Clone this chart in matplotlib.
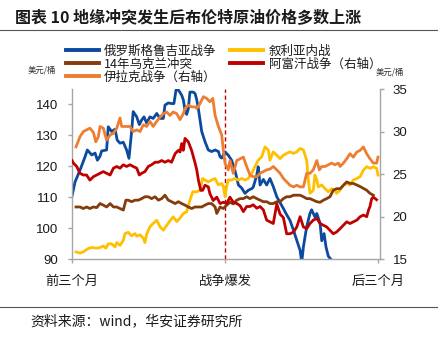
import matplotlib
matplotlib.use("Agg")
import matplotlib.pyplot as plt
from matplotlib.lines import Line2D

plt.rcParams['font.family'] = ['Noto Sans CJK SC', 'DejaVu Sans']

# ---------------- data ----------------
title = "图表 10 地缘冲突发生后布伦特原油价格多数上涨"
source = "资料来源：wind，华安证券研究所"
unit_label = "美元/桶"
x_ticks = [-65, 0, 65]
x_tick_labels = ["前三个月", "战争爆发", "后三个月"]
left_ticks = [90, 100, 110, 120, 130, 140]
right_ticks = [15, 20, 25, 30, 35]
event_day = 0

names = ["俄罗斯格鲁吉亚战争", "叙利亚内战", "14年乌克兰冲突", "阿富汗战争（右轴）", "伊拉克战争（右轴）"]

georgia_x = [-65, -63.7, -61.6, -59.5, -58.5, -56.6, -55.2, -54.2, -53.1, -52.4, -50.3, -49.6, -48.2, -46.7,
             -45.8, -44.6, -43.2, -41.8, -40.8, -39.7, -39, -37.5, -36.4, -35.4, -34.4, -33.3, -31.9, -30.5,
             -29, -27.6, -26.2, -25.5, -24.1, -22.7, -21.7, -20.8, -19.8, -18.4, -17.7, -17, -16.3, -15.6,
             -14.9, -13.5, -12.7, -12, -11.3, -10.6, -9.9, -8.5, -7.1, -5.7, -4.2, -2.8, -2.1, -1.4, 0, 1.4,
             2.8, 4.2, 5.7, 7.1, 8.5, 9.9, 11.3, 12, 13.5, 14.1, 14.9, 16.3, 17.7, 19.1, 20.5, 22, 23.4, 24.8,
             26.2, 27.6, 29.1, 30.5, 31.9, 32.6, 33.3, 34.7, 36.1, 36.8, 38.2, 39, 40.4, 41.1, 42.1, 42.9,
             43.9, 45.3]
georgia_y = [110.4, 115, 118.8, 123, 125.3, 123.7, 124.3, 122, 123.3, 125, 125.3, 132.8, 131.3, 132,
             128.5, 127.5, 127.8, 125.3, 122.6, 131, 137.7, 136, 133.5, 135, 136, 134, 136, 135.5,
             137.1, 135.5, 135.5, 139.8, 140.5, 140.3, 140.3, 144.7, 144.7, 143, 141.5, 138.2, 136.8, 138.5,
             144, 144, 143.5, 141.5, 138.5, 135, 131.3, 128, 125.3, 124.8, 125.3, 124.8, 123.1, 122.7, 124.7, 123.6,
             122, 118.8, 114, 113, 111.3, 112.3, 112.8, 113.3, 117.2, 119.9, 114, 115.8, 114, 116.1, 113.5, 110.2, 108.3, 106.4,
             104.4, 102.6, 99.4, 96.1, 92.9, 89, 94, 100.5, 104.8, 106, 103.7, 104.8, 101.6, 96, 98.3, 94,
             91, 89.7]

syria_x = [-63.3, -61.6, -60.2, -58.1, -56.6, -54.5, -53.1, -51.7, -50.6, -49.6, -48.2, -46.7, -46, -44.6,
           -43.2, -42.5, -41.1, -39.7, -38.2, -37.5, -36.1, -34.7, -34, -33.3, -31.9, -30.5, -29, -27.6,
           -26.2, -24.8, -23.4, -22, -20.5, -19.1, -17.7, -16.3, -14.9, -13.7, -12, -10.6, -9.5, -8.5, -7.1,
           -5.7, -4.2, -2.8, -1.4, -0.7, 0, 0.7, 1.4, 2.8, 4.2, 5.7, 7.1, 8.5, 9.9, 11.3, 12.7, 14.1, 15.6,
           17, 18.4, 19.1, 20.5, 22, 23.4, 24.8, 26.2, 27.6, 29.1, 30.5, 31.9, 33.3, 34.7, 35.4, 36.1, 37.5,
           38.2, 39, 39.6, 41.1, 42.5, 43.9, 45.3, 46.7, 47.4, 48.9, 50.3, 51.7, 53.1, 54.5, 56, 57.4, 58.8,
           60.2, 61.6, 63, 64.4, 65]
syria_y = [92.4, 92, 92.4, 93.5, 93.8, 93.6, 93.8, 94.3, 93.6, 95, 95, 94, 95.4, 94.5,
           96.1, 98.3, 98.7, 97.6, 98.3, 97.5, 97.9, 96.8, 95.4, 98.1, 100.5, 101.6, 102.6, 100.5,
           99.4, 100.9, 102.4, 103.7, 102.2, 103.3, 104.8, 105.3, 109.1, 111.8, 111.8, 112.3, 116.1, 115.6, 115,
           115.6, 116.1, 114, 114.5, 113.4, 110.2, 113.5, 115.6, 115.6, 116.1, 115.6, 116.1, 115.6, 116.1, 117.7, 119.9, 122, 123.1,
           126.3, 125.3, 122, 124.7, 123.6, 122.5, 123.6, 124.2, 124.7, 124.2, 124.7, 125.8, 125.3, 122, 115.6, 111.3, 112.3,
           117.2, 115.6, 113.4, 114, 112.8, 111.8, 112.8, 112.3, 111.3, 112.3, 114, 114.5, 114, 115.6, 116.1, 116.7, 118.8,
           119.9, 119.4, 119.9, 119.4, 117.2]

ukraine_x = [-63.3, -61.6, -60.2, -58.8, -57.4, -55.9, -54.5, -53.1, -51.7, -50.3, -48.8, -47.4, -46, -44.6,
             -43.2, -42.1, -41.1, -39.7, -38.2, -36.8, -35.4, -34, -32.6, -31.2, -29.7, -28.3, -26.9, -25.5,
             -24.1, -22.7, -21.2, -19.8, -18.4, -17, -15.6, -14.2, -12.7, -11.3, -9.9, -8.5, -7.1, -5.7, -4.2,
             -3.5, -2.1, -0.7, 0.7, 2.1, 3.5, 5, 6.4, 7.8, 9.2, 10.6, 12, 13.5, 14.9, 16.3, 17.7, 19.1, 20.5,
             22, 23.4, 24.8, 26.2, 27.6, 29.1, 30.5, 31.9, 33.3, 34.7, 36.1, 37.5, 39, 40.4, 41.8, 43.2, 44.6,
             46, 47.4, 48.9, 50.3, 51.7, 53.1, 54.5, 56, 57.4, 58.8, 60.2, 61.6, 63]
ukraine_y = [106.9, 106.9, 106.4, 106.9, 106.4, 106.9, 106.7, 108, 107.5, 106.9, 108, 106.9, 106.9, 106.4,
             105.9, 109.1, 109.1, 108.6, 109.1, 109.1, 109.6, 110.2, 110.2, 109.6, 110.2, 109.1, 109.6, 110.7,
             109.1, 108.6, 108, 108.6, 108, 107.5, 106.9, 106.4, 106.9, 106.9, 106.9, 107.5, 108, 108, 106.9,
             104.8, 106.9, 106.4, 107.5, 108.4, 107.9, 109.1, 109.6, 109.6, 110.2, 109.6, 110.2, 109.6, 109.1, 108.6, 108.6, 108, 108,
             108.6, 108.6, 109.6, 110.2, 110.2, 110.7, 110.7, 110.7, 110.2, 109.6, 109.6, 109.1, 108.6, 108.4, 109.1, 109.6, 110.2,
             112.3, 112.8, 112.8, 113.9, 115, 114.5, 114.5, 114, 113.5, 112.9, 112.3, 111.3, 110.7]

afghan_x = [-65, -64.4, -63, -61.6, -60.2, -58.8, -57.4, -55.9, -54.5, -53.1, -51.7, -50.3, -48.8, -47.4,
            -46, -44.6, -43.2, -41.8, -40.4, -39, -37.5, -36.4, -35.4, -34, -32.6, -31.2, -29.7, -28.3,
            -26.9, -25.5, -24.1, -22.7, -21.2, -19.8, -19.1, -18.4, -17.7, -17, -15.6, -14.2, -12.7, -12,
            -11.3, -10.3, -9.5, -8.5, -7.1, -6.4, -5, -3.5, -2.1, -0.7, 0.7, 2.1, 3.5, 5, 6.4, 7.8, 9.2,
            10.6, 12, 13.5, 14.9, 16.3, 17.7, 19.1, 20.5, 22, 23.4, 24.8, 26.2, 27.6, 29.1, 30.5, 31.9, 33.3,
            34.7, 36.1, 37.5, 39, 40.4, 41.8, 43.2, 44.6, 46, 47.4, 48.9, 50.3, 51.7, 53.1, 54.5, 56, 57.4,
            58.8, 60.2, 61, 61.6, 62.3, 63, 64.4]
afghan_y = [26.6, 26.3, 25.9, 25.1, 24.9, 24.9, 24.3, 24.7, 24.9, 25.1, 25.3, 25.1, 24.9, 25.7,
            25.9, 25.7, 26.1, 25.9, 26.1, 25.9, 25.7, 24.9, 25.1, 25.3, 25.9, 26.1, 26.4, 26.4,
            26.6, 26.4, 26.6, 26.4, 27.4, 27.8, 27.6, 28.6, 27.8, 29.2, 28.8, 27.8, 26.3, 25.5,
            24.3, 23.1, 23.1, 23.7, 23.5, 22.7, 21.9, 22.3, 21.55, 21.7, 21.55, 22.3, 21.7, 21.55, 21.3, 20.6, 21.2,
            21.2, 21.4, 21.0, 21.2, 20.8, 19.6, 19.4, 19.2, 21.5, 20.3, 19.9, 18, 18, 18.2, 18.8, 20, 18.8,
            18.6, 19.2, 19.6, 19.8, 19.2, 19, 18.8, 18.4, 18, 18.2, 18.6, 19, 19.4, 19.2, 19.4, 19.6, 20,
            20.2, 20, 20.8, 21.2, 22.1, 22.3, 22]

iraq_x = [-63.3, -61.6, -60.2, -58.8, -57.4, -55.9, -54.9, -53.8, -53.1, -51.7, -50.3, -48.8, -47.4, -46,
          -44.6, -43.9, -41.8, -40.4, -39, -37.5, -36.1, -34.7, -33.3, -31.9, -30.5, -29, -27.6, -26.2,
          -24.8, -23.4, -22, -20.5, -19.1, -17.7, -17, -15.6, -14.2, -12.7, -12, -10.6, -9.2, -7.8, -6.4,
          -5.2, -4.2, -2.8, -1.4, -0.7, 0, 1.4, 2.1, 3.5, 5, 6.4, 7.8, 9.2, 10.6, 12, 13.5, 14.9, 16.3,
          17.7, 19.1, 20.5, 22, 23.4, 24.8, 26.2, 27.6, 29.1, 30.5, 31.9, 33.3, 34.7, 36.1, 37.5, 39, 40.1,
          41.1, 42.5, 43.9, 45.3, 46.7, 48.2, 48.9, 50.3, 51.7, 53.1, 54.5, 56, 57.4, 58.8, 60.2, 61.6, 63,
          64.4, 65]
iraq_y = [28.2, 29.4, 30, 30.2, 30.4, 29.9, 28.8, 29.4, 30.6, 30.4, 29, 29.6, 29.8, 30.4,
          31.6, 30.6, 30.6, 30.6, 30, 30.2, 30, 30.8, 30.6, 31.2, 30.6, 31.2, 31.7, 32.1,
          32.3, 31.9, 32.3, 32.1, 31.4, 32.1, 32.7, 33.1, 32.9, 32.9, 32.7, 33.3, 34.1, 33.9, 33.5,
          33.9, 31.9, 30.6, 29.6, 27.8, 26.3, 25.5, 26.6, 25.1, 26.6, 26.8, 27, 25.9, 24.9, 24.7, 24.7, 25.1, 25.3,
          25.5, 25.6, 25.9, 25.5, 25.1, 24.5, 24.1, 23.7, 23.5, 23.7, 23.5, 23.5, 25.1, 25.1, 25.5, 26.6, 25.5,
          25.9, 25.9, 26.1, 26.3, 26.1, 26.3, 25.9, 26.3, 26.8, 27.4, 27, 27.6, 27.8, 28.2, 27.4, 26.8, 26.3,
          26.3, 27]

# ---------------- style ----------------
c_blue = "#0B4A9E"
c_yellow = "#FFC000"
c_brown = "#843C0C"
c_red = "#C00000"
c_orange = "#ED7D31"
spine_c = "#A6A6A6"
lw = 2.0

fig = plt.figure(figsize=(4.38, 3.37), dpi=100)
ax = fig.add_axes([72 / 438, 1 - 259.3 / 337, 308 / 438, (259.3 - 89) / 337])
ax2 = ax.twinx()

l1, = ax.plot(georgia_x, georgia_y, color=c_blue, lw=lw, solid_joinstyle='round')
l2, = ax.plot(syria_x, syria_y, color=c_yellow, lw=lw, solid_joinstyle='round')
l3, = ax.plot(ukraine_x, ukraine_y, color=c_brown, lw=lw, solid_joinstyle='round')
l4, = ax2.plot(afghan_x, afghan_y, color=c_red, lw=lw, solid_joinstyle='round')
l5, = ax2.plot(iraq_x, iraq_y, color=c_orange, lw=lw, solid_joinstyle='round')

ax.axvline(event_day, color=c_red, lw=1.0, dashes=(3, 2), zorder=1)

xmin, xmax = -65, 65 + 2 / 306 * 130
ax.set_xlim(xmin, xmax)
ax.set_ylim(90, 145)
ax2.set_ylim(15, 35)

ax.set_yticks(left_ticks)
ax2.set_yticks(right_ticks)
ax.set_xticks(x_ticks)
ax.set_xticklabels(x_tick_labels, fontsize=9.5, color="#1a1a1a")

for a in (ax, ax2):
    for s in a.spines.values():
        s.set_color(spine_c)
        s.set_linewidth(1.0)
    a.spines['top'].set_visible(False)
ax.spines['right'].set_visible(False)
ax2.spines['left'].set_visible(False)
ax2.spines['bottom'].set_visible(False)

ax.tick_params(axis='y', direction='out', length=3, width=1, color=spine_c, pad=7)
ax2.tick_params(axis='y', direction='out', length=3, width=1, color=spine_c, pad=6)
ax.tick_params(axis='x', direction='out', length=3, width=1, color=spine_c, pad=8)
for lab in ax.get_yticklabels() + ax2.get_yticklabels():
    lab.set_fontfamily('Liberation Sans')
    lab.set_fontsize(9.5)
    lab.set_color("#1a1a1a")

# unit labels
fig.text(42 / 438, 1 - 70.5 / 337, unit_label, fontsize=6, ha='center', va='center', color="#333333")
fig.text(390 / 438, 1 - 72 / 337, unit_label, fontsize=6, ha='center', va='center', color="#333333")

# legend
handles = [l1, l3, l5, l2, l4]
labels = [names[0], names[2], names[4], names[1], names[3]]
leg = fig.legend(handles, labels, ncol=2, loc='upper left', bbox_to_anchor=(66 / 438, 1 - 44.5 / 337),
                 frameon=False, fontsize=9, handlelength=2.6, handletextpad=0.45, columnspacing=1.1,
                 labelspacing=0.0, borderpad=0, borderaxespad=0)
for t in leg.get_texts():
    t.set_color("#1a1a1a")
for h in leg.get_lines():
    h.set_linewidth(2.8)

# title and rules
fig.text(15 / 438, 1 - 17 / 337, title, fontsize=11.5, fontweight='bold', ha='left', va='center', color="#1a1a1a")
fig.add_artist(Line2D([0, 1], [1 - 30 / 337] * 2, transform=fig.transFigure, color="#555555", lw=0.8))
fig.add_artist(Line2D([0, 1], [1 - 307 / 337] * 2, transform=fig.transFigure, color="#555555", lw=0.8))
fig.text(30 / 438, 1 - 321 / 337, source, fontsize=10, ha='left', va='center', color="#1a1a1a")

fig.savefig("out.png", dpi=100)
